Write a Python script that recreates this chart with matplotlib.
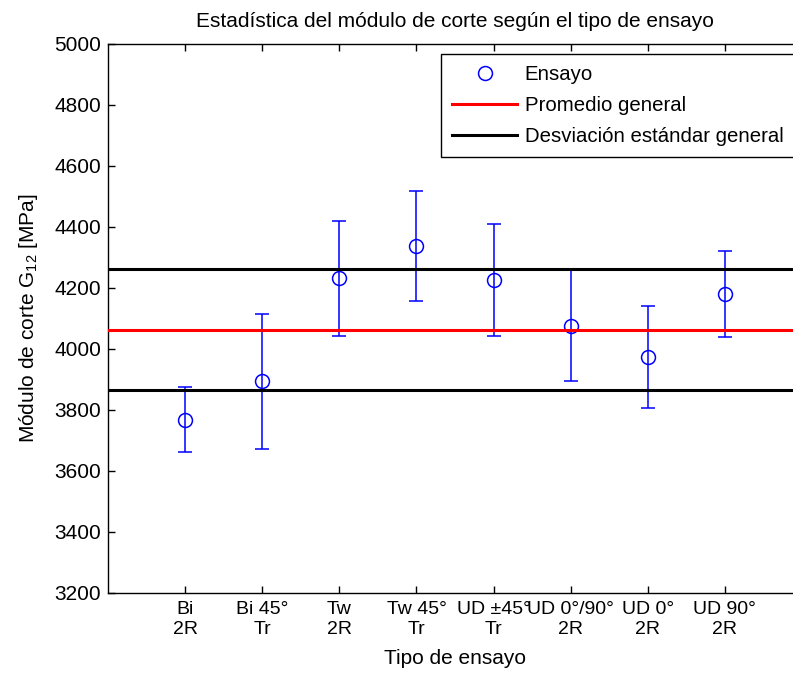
import matplotlib
matplotlib.use("Agg")
import matplotlib.pyplot as plt
from matplotlib.lines import Line2D
import numpy as np

plt.rcParams['font.family'] = ['Liberation Sans', 'DejaVu Sans']
plt.rcParams['mathtext.fontset'] = 'custom'
plt.rcParams['mathtext.rm'] = 'Liberation Sans'
plt.rcParams['mathtext.it'] = 'Liberation Sans:italic'
plt.rcParams['mathtext.bf'] = 'Liberation Sans:bold'

# Test types (two-line tick labels)
tipos = ["Bi\n2R", "Bi 45°\nTr", "Tw\n2R", "Tw 45°\nTr",
         "UD ±45°\nTr", "UD 0°/90°\n2R", "UD 0°\n2R", "UD 90°\n2R"]
# Mean shear modulus per test type [MPa]
g12_medio = [3768, 3894, 4231, 4337, 4226, 4076, 3973, 4179]
# Standard deviation per test type [MPa]
g12_desv = [107, 221, 189, 179, 184, 183, 168, 142]
# Overall mean and overall standard deviation [MPa]
promedio_general = 4063
desviacion_general = 198

W, H = 793, 673
fig = plt.figure(figsize=(W / 100, H / 100), dpi=100)
ax = fig.add_axes([108 / W, 80 / H, 694 / W, 549.5 / H])

azul = '#0000ff'
x = np.arange(1, len(tipos) + 1)
ax.errorbar(x, g12_medio, yerr=g12_desv, fmt='o', color=azul,
            mfc='none', mec=azul, ms=10, mew=1.1, elinewidth=1.1,
            capsize=4.7, capthick=1.1, zorder=2)

xs = [0, len(tipos) + 1]
ax.plot(xs, [promedio_general] * 2, color='#ff0000', lw=2.2, zorder=3)
ax.plot(xs, [promedio_general + desviacion_general] * 2, color='black',
        lw=2.2, zorder=3)
ax.plot(xs, [promedio_general - desviacion_general] * 2, color='black',
        lw=2.2, zorder=3)

ax.set_xlim(0, len(tipos) + 1)
ax.set_ylim(3200, 5000)
ax.set_xticks(x)
ax.set_xticklabels(tipos, linespacing=1.17)
ax.set_yticks(np.arange(3200, 5001, 200))

fs = 15
ax.tick_params(direction='in', length=5, width=1, top=True, right=True,
               colors='black')
ax.tick_params(axis='y', pad=5, labelsize=15)
ax.tick_params(axis='x', pad=6, labelsize=14)
for s in ax.spines.values():
    s.set_linewidth(1.0)

ax.set_title('Estadística del módulo de corte según el tipo de ensayo',
             fontsize=fs, pad=12)
ax.set_xlabel('Tipo de ensayo', fontsize=fs, labelpad=8)
ax.set_ylabel('Módulo de corte G$_{\\mathregular{12}}$ [MPa]', fontsize=fs,
              labelpad=10)

handles = [
    Line2D([], [], ls='none', marker='o', ms=10, mfc='none', mec=azul, mew=1.1),
    Line2D([], [], color='#ff0000', lw=2.2),
    Line2D([], [], color='black', lw=2.2),
]
labels = ['Ensayo', 'Promedio general', 'Desviación estándar general']
leg = ax.legend(handles, labels, loc='upper left',
                bbox_to_anchor=(441 / W, 1 - 54 / H),
                bbox_transform=fig.transFigure, borderaxespad=0,
                fontsize=14.65, frameon=True, fancybox=False, framealpha=1,
                edgecolor='black', handlelength=3.2, handletextpad=0.36,
                borderpad=0.55, labelspacing=0.58, numpoints=1)
leg.get_frame().set_linewidth(1.0)

fig.savefig('out.png', dpi=100)
